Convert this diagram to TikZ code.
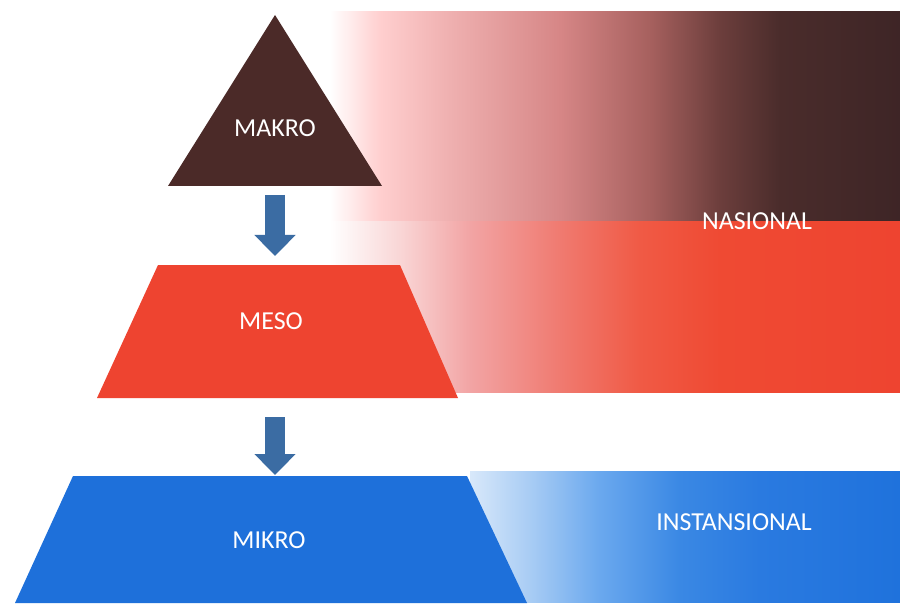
\documentclass[tikz,border=0pt]{standalone}
\usepackage{fontspec}
\setmainfont{Carlito}
\usetikzlibrary{arrows.meta}
\definecolor{makro}{HTML}{4B2A28}
\definecolor{meso}{HTML}{EE4430}
\definecolor{mikro}{HTML}{1E70DA}
\definecolor{arrowblue}{HTML}{3B6CA3}
\pgfdeclarehorizontalshading{nasionalshade}{100bp}{
  color(0bp)=(white); color(25bp)=(white); color(29.4bp)=(white!85!red!60!pink);
  color(35.5bp)=(rgb,255:red,239;green,176;blue,176); color(45.2bp)=(rgb,255:red,214;green,134;blue,134);
  color(53.1bp)=(rgb,255:red,166;green,96;blue,94); color(59.2bp)=(rgb,255:red,108;green,62;blue,60);
  color(64.5bp)=(rgb,255:red,74;green,44;blue,43); color(75bp)=(rgb,255:red,62;green,37;blue,38);
  color(100bp)=(rgb,255:red,62;green,37;blue,38)}
\pgfdeclarehorizontalshading{mesoshade}{100bp}{
  color(0bp)=(white); color(25bp)=(white); color(31.1bp)=(rgb,255:red,249;green,214;blue,214);
  color(37.3bp)=(rgb,255:red,242;green,164;blue,164); color(45.2bp)=(rgb,255:red,240;green,122;blue,112);
  color(52.2bp)=(rgb,255:red,240;green,90;blue,69); color(59.2bp)=(rgb,255:red,239;green,74;blue,51);
  color(75bp)=(rgb,255:red,238;green,68;blue,48); color(100bp)=(rgb,255:red,238;green,68;blue,48)}
\pgfdeclarehorizontalshading{mikroshade}{100bp}{
  color(0bp)=(rgb,255:red,216;green,232;blue,250); color(25bp)=(rgb,255:red,216;green,232;blue,250);
  color(32bp)=(rgb,255:red,168;green,204;blue,244); color(40.1bp)=(rgb,255:red,106;green,168;blue,238);
  color(49.4bp)=(rgb,255:red,58;green,136;blue,228); color(58.7bp)=(rgb,255:red,42;green,122;blue,224);
  color(75bp)=(rgb,255:red,31;green,114;blue,220); color(100bp)=(rgb,255:red,31;green,114;blue,220)}
\tikzset{
  lbl/.style={text=white, font=\fontsize{26}{30}\selectfont, inner sep=0pt},
  blockarrow/.style={draw=arrowblue, line width=20bp, -{Triangle[width=40bp,length=21bp]}}
}
\begin{document}
\begin{tikzpicture}[x=1bp, y=-1bp]
\useasboundingbox (0,0) rectangle (900,607);
\fill[white] (0,0) rectangle (900,607);
% bands
\shade[shading=nasionalshade] (330,12) rectangle (900,222);
\shade[shading=mesoshade] (330,222) rectangle (900,392);
\shade[shading=mikroshade] (470,471) rectangle (900,602);
% shapes
\fill[makro] (275,15) -- (382,186) -- (168,186) -- cycle;
\fill[meso] (158,265) -- (400,265) -- (458,398) -- (97,398) -- cycle;
\fill[mikro] (73,476) -- (467,476) -- (527,603) -- (15,603) -- cycle;
% arrows
\coordinate (a1s) at (275,195);
\coordinate (a1e) at (275,256);
\coordinate (a2s) at (275,417);
\coordinate (a2e) at (275,475);
\draw[blockarrow] (a1s) -- (a1e);
\draw[blockarrow] (a2s) -- (a2e);
% labels
\node[lbl] (makro) at (275,128) {MAKRO};
\node[lbl] (meso) at (271,321) {MESO};
\node[lbl] (mikro) at (269,540) {MIKRO};
\node[lbl] (nasional) at (757,221) {NASIONAL};
\node[lbl] (instansional) at (734,522) {INSTANSIONAL};
\end{tikzpicture}
\end{document}
